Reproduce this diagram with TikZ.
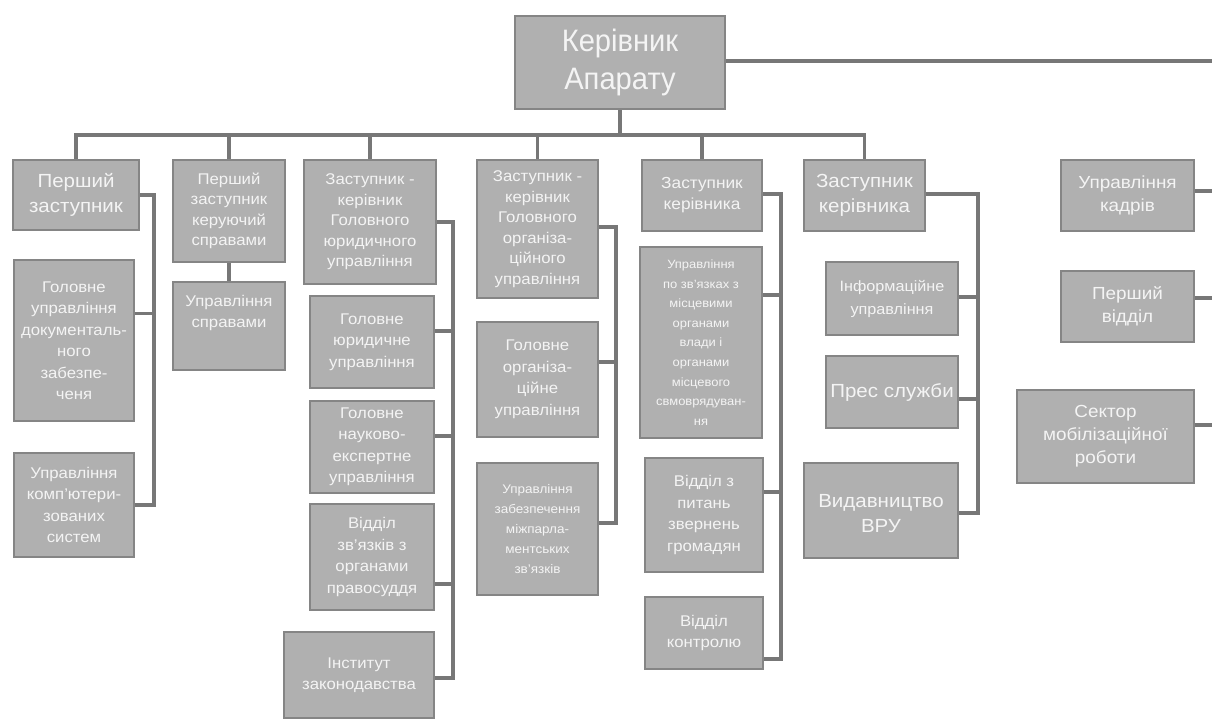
\documentclass[tikz,border=0pt]{standalone}
\usepackage{fontspec}
\setmainfont{Liberation Sans}[FakeStretch=1.08]
\newfontfamily\headfont{Liberation Sans}[FakeStretch=0.94]
\usepackage{tikz}
\definecolor{boxgray}{HTML}{B0B0B0}
\definecolor{edgegray}{HTML}{858585}
\definecolor{linkgray}{HTML}{777777}
\definecolor{txtwhite}{HTML}{F4F4F4}

\begin{document}
\begin{tikzpicture}[x=1pt, y=-1pt,
	unit/.style={draw=edgegray, line width=2.2pt, fill=boxgray, text=txtwhite, align=center, inner sep=0pt},
	wh/.style 2 args={minimum width=#1, minimum height=#2},
	link/.style={draw=linkgray, line width=3.4pt},
	fTop/.style={font=\headfont\fontsize{31}{38}\selectfont},
	fL/.style={font=\fontsize{19}{25}\selectfont},
	fR/.style={font=\fontsize{17.5}{23}\selectfont},
	fM/.style={font=\fontsize{15.5}{21.5}\selectfont},
	fN/.style={font=\fontsize{15.5}{20.5}\selectfont},
	fS/.style={font=\fontsize{12.5}{20}\selectfont}]
	\useasboundingbox (0,0) rectangle (1212,720);
	
	% head
	\node[unit, wh={210}{93}, fTop] (kerivnyk) at (620,62.5) {Керівник\\Апарату};
	
	% deputies
	\node[unit, wh={126}{70}, fL] (zast1) at (76,195) {Перший\\заступник};
	\node[unit, wh={112}{102}, fN] (zast2) at (229,211) {Перший\\заступник\\керуючий\\справами};
	\node[unit, wh={132}{124}, fN] (zast3) at (370,222) {Заступник -\\керівник\\Головного\\юридичного\\управління};
	\node[unit, wh={121}{138}, fN] (zast4) at (537.5,229) {Заступник -\\керівник\\Головного\\організа-\\ційного\\управління};
	\node[unit, wh={120}{71}, font=\fontsize{16}{21}\selectfont] (zast5) at (702,195.5) {Заступник\\керівника};
	\node[unit, wh={121}{71}, fL] (zast6) at (864.5,195.5) {Заступник\\керівника};
	
	% departments
	\node[unit, wh={120}{161}, fM] (doc) at (74,340.5) {Головне\\управління\\документаль-\\ного\\забезпе-\\ченя};
	\node[unit, wh={120}{104}, fM] (komp) at (74,505) {Управління\\комп’ютери-\\зованих\\систем};
	\node[unit, wh={112}{88}, fM] (spravy) at (229,326) {Управління\\справами\\[8pt]};
	\node[unit, wh={124}{92}, fM] (golyur) at (372,342) {Головне\\юридичне\\управління};
	\node[unit, wh={124}{92}, fM] (nauk) at (372,447) {Головне\\науково-\\експертне\\управління};
	\node[unit, wh={124}{106}, fM] (pravo) at (372,557) {Відділ\\зв’язків з\\органами\\правосуддя};
	\node[unit, wh={150}{86}, fM] (inst) at (359,675) {Інститут\\законодавства};
	\node[unit, wh={121}{115}, fM] (golorg) at (537.5,379.5) {Головне\\організа-\\ційне\\управління};
	\node[unit, wh={121}{132}, fS] (mizh) at (537.5,529) {Управління\\забезпечення\\міжпарла-\\ментських\\зв’язків};
	\node[unit, wh={122}{191}, font=\fontsize{12}{19.6}\selectfont] (misc) at (701,342.5) {Управління\\по зв’язках з\\місцевими\\органами\\влади і\\органами\\місцевого\\свмоврядуван-\\ня};
	\node[unit, wh={118}{114}, fM] (zvern) at (704,515) {Відділ з\\питань\\звернень\\громадян};
	\node[unit, wh={118}{72}, fM] (kontr) at (704,633) {Відділ\\контролю};
	\node[unit, wh={132}{73}, font=\fontsize{15}{23}\selectfont] (inform) at (892,298.5) {Інформаційне\\управління};
	\node[unit, wh={132}{72}, fL] (pres) at (892,392) {Прес служби};
	\node[unit, wh={154}{95}, fL] (vyd) at (881,510.5) {\\[-6pt]Видавництво\\ВРУ};
	
	% right column
	\node[unit, wh={133}{71}, fR] (kadr) at (1127.5,195.5) {Управління\\кадрів};
	\node[unit, wh={133}{71}, fR] (viddil) at (1127.5,306.5) {Перший\\відділ};
	\node[unit, wh={177}{93}, fR] (sektor) at (1105.5,436.5) {Сектор\\мобілізаційної\\роботи};
	
	% trunks
	\coordinate (bus) at (0,135);
	\coordinate (t1) at (154,0);
	\coordinate (t3) at (453,0);
	\coordinate (t4) at (616,0);
	\coordinate (t5) at (781,0);
	\coordinate (t6) at (978,0);
	\coordinate (edge) at (1212,0);
	
	% bus under the head
	\foreach \n in {zast1,zast2,zast3,zast4,zast5,zast6}
		\draw[link] (\n.north) |- (kerivnyk.south |- bus) -- (kerivnyk.south);
	\draw[link] (zast2) -- (spravy);
	
	% deputy to trunk to units
	\draw[link] (zast1.east) -| (komp.east -| t1) -- (komp.east);
	\draw[link] (zast3.east) -| ([yshift=-3pt]inst.east -| t3) -- ([yshift=-3pt]inst.east);
	\draw[link] ([yshift=2pt]zast4.east) -| ([yshift=6pt]mizh.east -| t4) -- ([yshift=6pt]mizh.east);
	\draw[link] ([yshift=1.5pt]zast5.east) -| ([yshift=-26pt]kontr.east -| t5) -- ([yshift=-26pt]kontr.east);
	\draw[link] ([yshift=1.5pt]zast6.east) -| ([yshift=-2.5pt]vyd.east -| t6) -- ([yshift=-2.5pt]vyd.east);
	
	% stubs
	\foreach \n/\s/\t in {doc/27/t1, golyur/11/t3, nauk/11/t3, pravo/-27/t3, golorg/17.5/t4, misc/47.5/t5, zvern/23/t5, inform/1.5/t6, pres/-7/t6}
		\draw[link] ([yshift=\s pt]\n.east) -- ([yshift=\s pt]\n.east -| \t);
	
	% lines leaving to the right
	\foreach \n/\s in {kerivnyk/1.5, kadr/4.5, viddil/8.5, sektor/11.5}
		\draw[link] ([yshift=\s pt]\n.east) -- ([yshift=\s pt]\n.east -| edge);
\end{tikzpicture}
\end{document}
